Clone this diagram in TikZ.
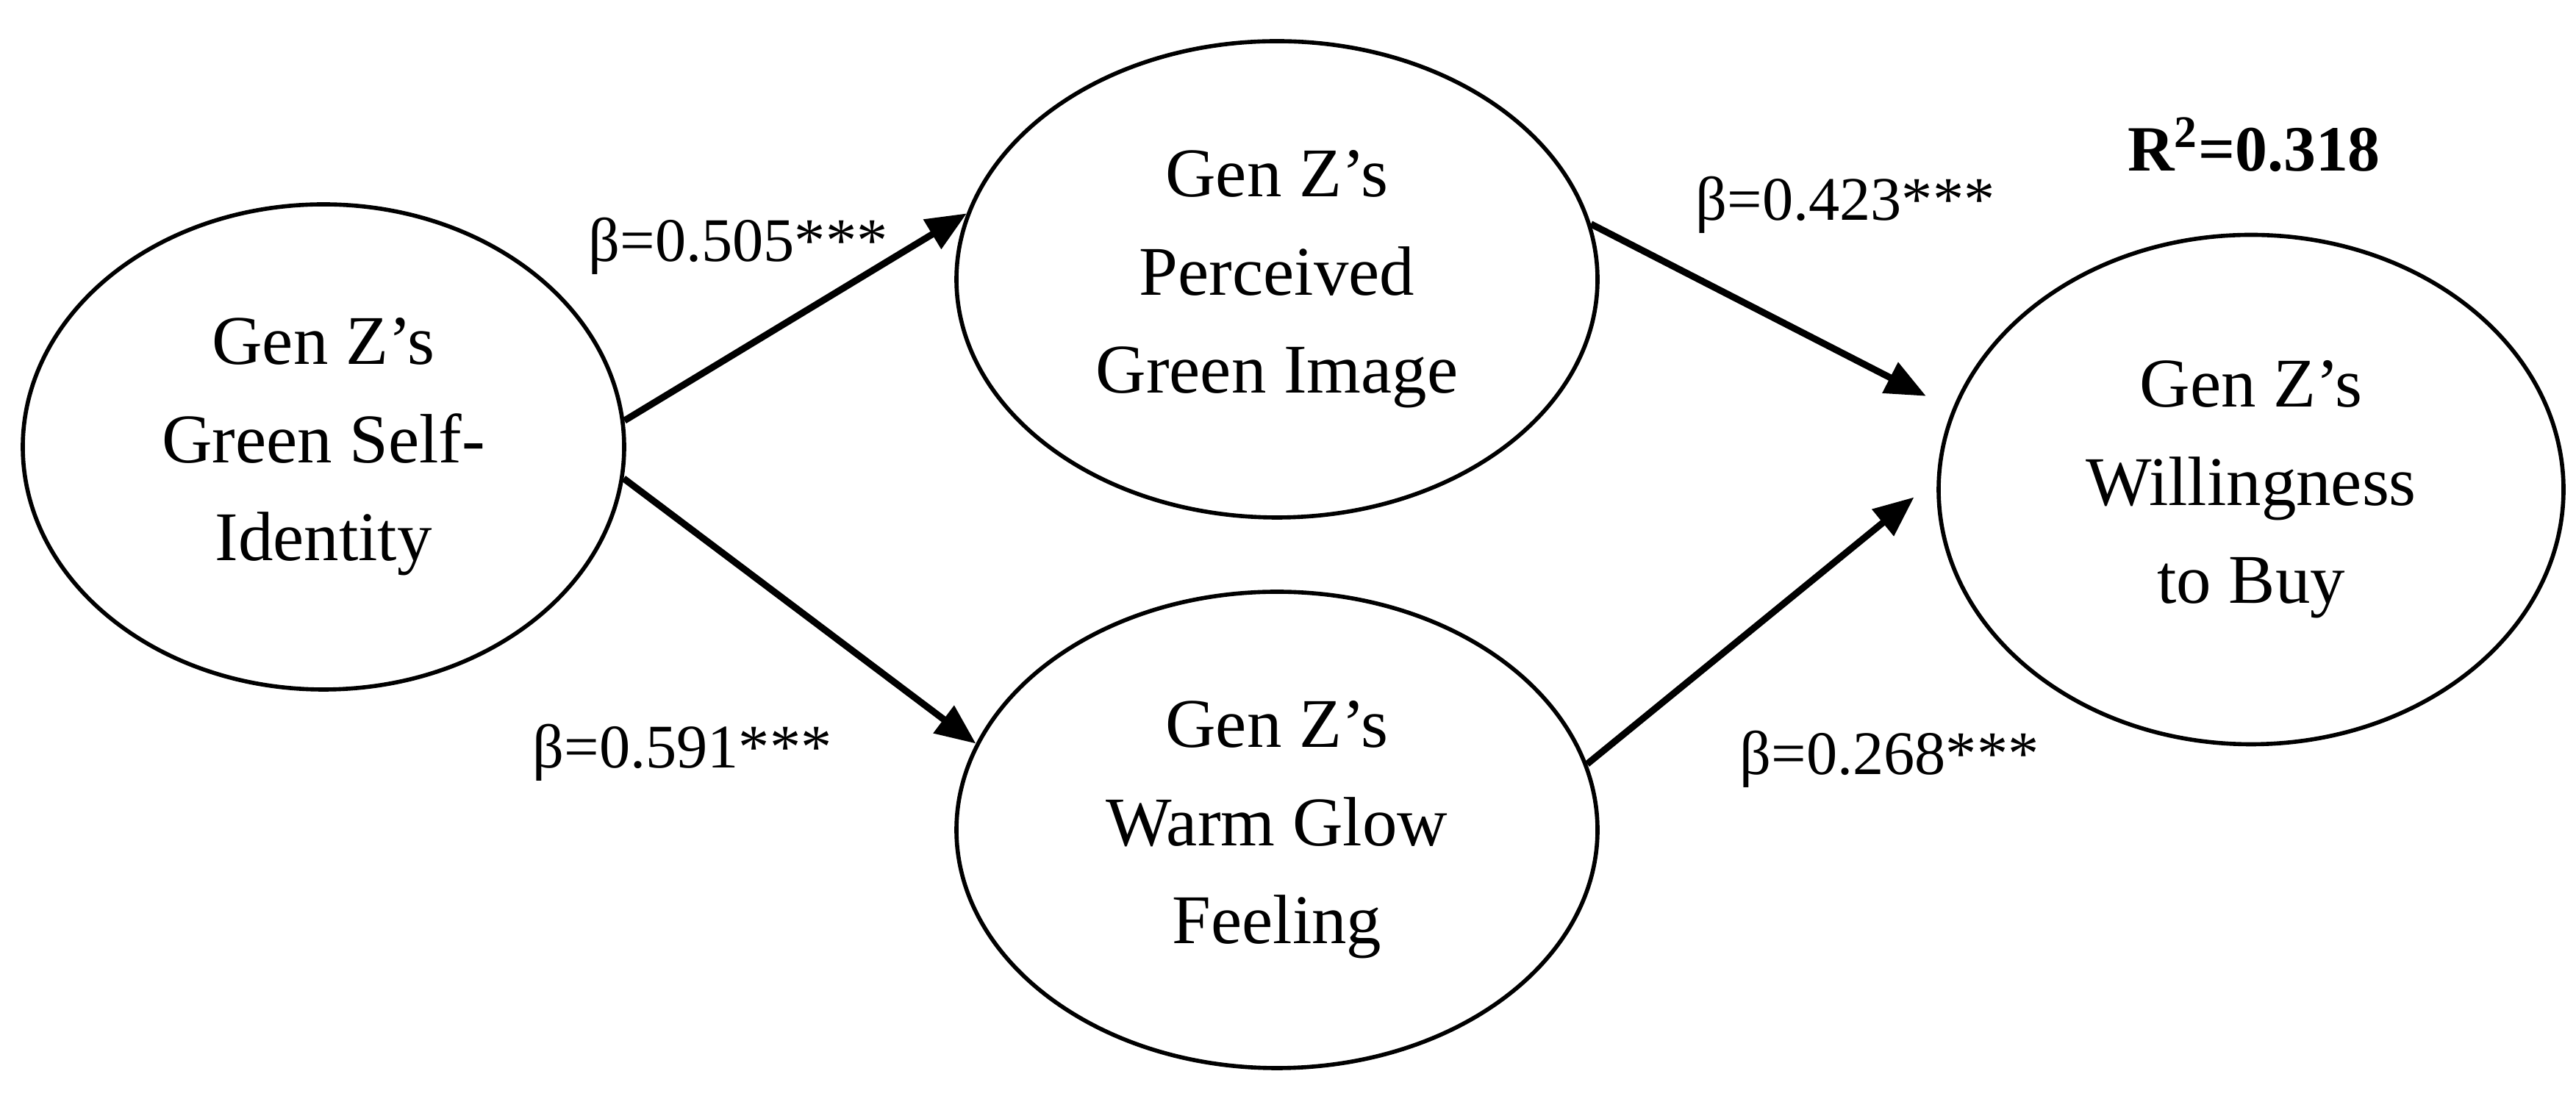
\documentclass[tikz,border=0pt]{standalone}
\usepackage{fontspec}
\setmainfont{Liberation Serif}
\usetikzlibrary{positioning, arrows.meta, shapes.geometric}

\begin{document}
\begin{tikzpicture}[
      var/.style={ellipse, draw, line width=1.6pt, align=center, font=\fontsize{27}{38}\selectfont},
      path/.style={line width=2.6pt, -{Triangle[length=0.55cm, width=0.45cm]}},
      coef/.style={font=\fontsize{24}{30}\selectfont}]
    \useasboundingbox (0,0) rectangle (35.04,15.10);
    \node[var, minimum width=8.18cm, minimum height=6.6cm] (gsi) at (4.40,9.02) {Gen Z's\\Green Self-\\Identity};
    \node[var, minimum width=8.72cm, minimum height=6.48cm] (pgi) at (17.37,11.30) {Gen Z's\\Perceived\\Green Image};
    \node[var, minimum width=8.72cm, minimum height=6.48cm] (wgf) at (17.37,3.81) {Gen Z's\\Warm Glow\\Feeling};
    \node[var, minimum width=8.5cm, minimum height=6.93cm] (wtb) at (30.62,8.44) {Gen Z's\\Willingness\\to Buy};
    \node[coef, font=\fontsize{25}{30}\selectfont\bfseries] (rsq) at (30.66,13.13) {R\textsuperscript{2}=0.318};
    % paths
    \draw[path] (gsi.5) -- (pgi.168);
    \draw[path] (gsi.-6) -- (wgf.164);
    \draw[path, shorten >=0.4cm] (pgi.10) -- (wtb.165);
    \draw[path, shorten >=0.4cm] (wgf.12) -- (wtb.178);
    \node[coef] (b1) at (10.04,11.75) {β=0.505***};
    \node[coef] (b2) at (9.28,4.86) {β=0.591***};
    \node[coef] (b3) at (25.10,12.31) {β=0.423***};
    \node[coef] (b4) at (25.70,4.77) {β=0.268***};
\end{tikzpicture}
\end{document}
